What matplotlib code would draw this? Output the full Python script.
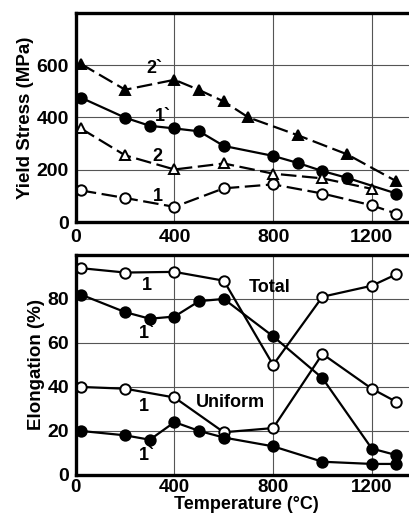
import matplotlib
matplotlib.use('Agg')
import matplotlib.pyplot as plt

plt.rcParams['font.family'] = ['Liberation Sans', 'DejaVu Sans']
plt.rcParams['font.weight'] = 'bold'

# yield stress (MPa)
t_2p = [20, 200, 400, 500, 600, 700, 900, 1100, 1300]
ys_2p = [605, 506, 544, 505, 461, 400, 332, 259, 156]
t_1p = [20, 200, 300, 400, 500, 600, 800, 900, 1000, 1100, 1300]
ys_1p = [476, 399, 368, 358, 347, 291, 253, 226, 195, 169, 109]
t_2 = [20, 200, 400, 600, 800, 1000, 1200]
ys_2 = [358, 255, 201, 224, 185, 167, 127]
t_1 = [20, 200, 400, 600, 800, 1000, 1200, 1300]
ys_1 = [121, 92, 58, 129, 144, 109, 64, 32]

# elongation (%)
t_tot1 = [20, 200, 400, 600, 800, 1000, 1200, 1300]
el_tot1 = [94, 92, 92.3, 88.3, 50, 81, 86, 91.2]
t_tot1p = [20, 200, 300, 400, 500, 600, 800, 1000, 1200, 1300]
el_tot1p = [82, 74, 71, 72, 79, 80, 63, 44, 12, 9]
t_uni1 = [20, 200, 400, 600, 800, 1000, 1200, 1300]
el_uni1 = [40, 39.2, 35.2, 19.4, 21.3, 55, 39.2, 33.2]
t_uni1p = [20, 200, 300, 400, 500, 600, 800, 1000, 1200, 1300]
el_uni1p = [20, 18, 16, 24, 20, 17, 13, 6, 5, 5]

fig = plt.figure(figsize=(4.1, 5.14), dpi=100)
ax1 = fig.add_axes([0.185, 0.568, 0.83, 0.407])
ax2 = fig.add_axes([0.185, 0.076, 0.83, 0.428])

mk = dict(color='black', markersize=7.5, markeredgewidth=1.4)
dash = (0, (7, 2.5))

ax1.plot(t_2p, ys_2p, marker='^', markerfacecolor='black', linestyle=dash, lw=1.6, **mk)
ax1.plot(t_1p, ys_1p, marker='o', markerfacecolor='black', linestyle='-', lw=1.6, **mk)
ax1.plot(t_2, ys_2, marker='^', markerfacecolor='white', linestyle=dash, lw=1.6, **mk)
ax1.plot(t_1, ys_1, marker='o', markerfacecolor='white', linestyle=dash, lw=1.6, **mk)

ax2.plot(t_tot1, el_tot1, marker='o', markerfacecolor='white', lw=1.6, **mk)
ax2.plot(t_tot1p, el_tot1p, marker='o', markerfacecolor='black', lw=1.6, **mk)
ax2.plot(t_uni1, el_uni1, marker='o', markerfacecolor='white', lw=1.6, **mk)
ax2.plot(t_uni1p, el_uni1p, marker='o', markerfacecolor='black', lw=1.6, **mk)

lab = dict(fontsize=13, fontweight='bold', ha='center', va='center')
ax1.text(320, 588, '2`', **lab)
ax1.text(355, 405, '1`', **lab)
ax1.text(332, 252, '2', **lab)
ax1.text(332, 99, '1', **lab)

ax2.text(290, 86, '1', **lab)
ax2.text(785, 85, 'Total', **lab)
ax2.text(290, 64.5, '1`', **lab)
ax2.text(277, 31, '1', **lab)
ax2.text(627, 33, 'Uniform', **lab)
ax2.text(290, 9, '1`', **lab)

for ax in (ax1, ax2):
    ax.set_xlim(0, 1380)
    ax.set_xticks([0, 400, 800, 1200])
    ax.grid(True, color='#555555', lw=0.8)
    ax.set_axisbelow(True)
    ax.tick_params(length=0, labelsize=14, pad=5)
    for s in ('left', 'bottom', 'top'):
        ax.spines[s].set_linewidth(2.4)
    ax.spines['right'].set_visible(False)
    for lbl in ax.get_xticklabels() + ax.get_yticklabels():
        lbl.set_fontweight('bold')

ax2.tick_params(axis='x', labelsize=13.5, pad=3)

ax1.set_ylim(0, 800)
ax1.set_yticks([0, 200, 400, 600])
ax1.set_ylabel('Yield Stress (MPa)', fontsize=13.5, fontweight='bold', labelpad=2)

ax2.set_ylim(0, 100)
ax2.set_yticks([0, 20, 40, 60, 80])
ax2.set_ylabel('Elongation (%)', fontsize=13.5, fontweight='bold', labelpad=2)
ax2.set_xlabel('Temperature (\u00b0C)', fontsize=13, fontweight='bold')
ax2.xaxis.set_label_coords(0.5, -0.098)

fig.savefig('out.png', dpi=100)
